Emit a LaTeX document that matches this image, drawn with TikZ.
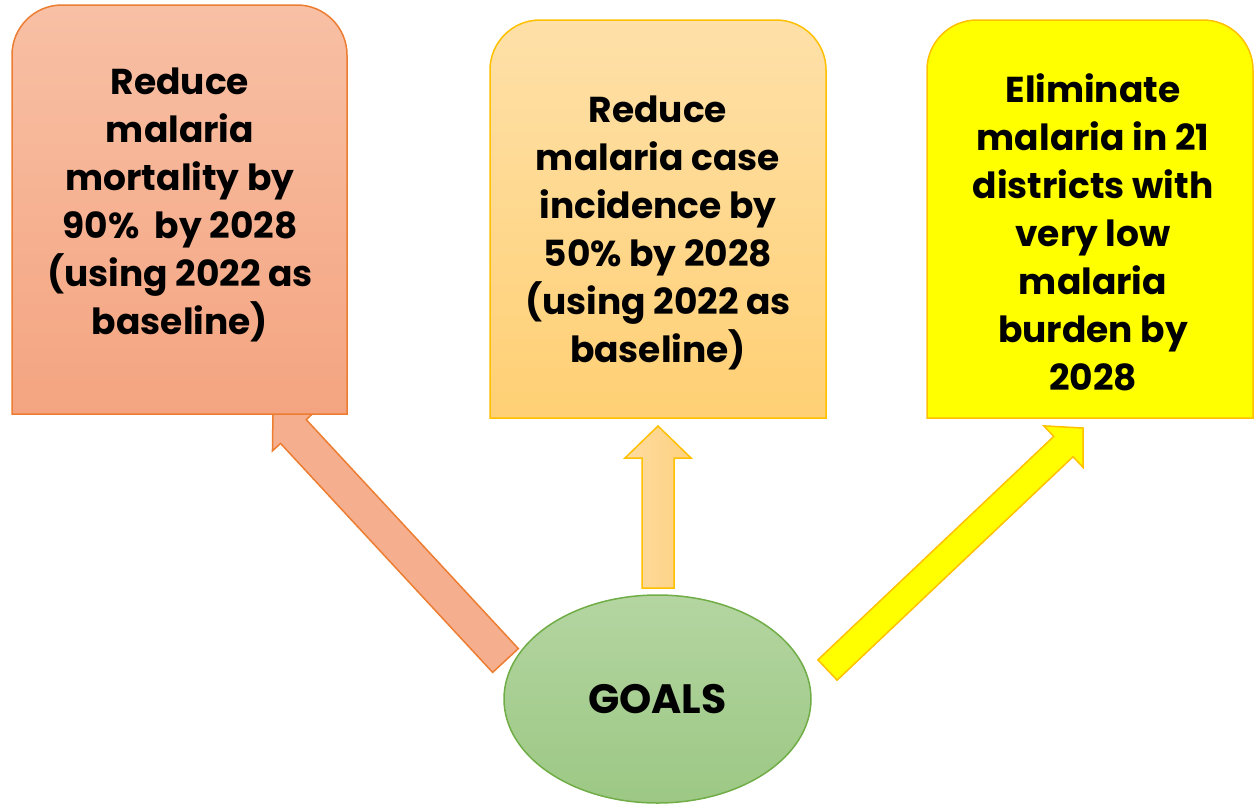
\documentclass[tikz,border=0pt]{standalone}
\usepackage{fontspec}
\setmainfont{Poppins}
\usetikzlibrary{calc,shapes.geometric}
\definecolor{orA}{HTML}{ED7D31}
\definecolor{b1top}{HTML}{F8C0A5}
\definecolor{b1bot}{HTML}{F4A480}
\definecolor{b2top}{HTML}{FEE0A8}
\definecolor{b2bot}{HTML}{FFD074}
\definecolor{goldB}{HTML}{FFC000}
\definecolor{yel}{HTML}{FFFF00}
\definecolor{gtop}{HTML}{B4D5A1}
\definecolor{gbot}{HTML}{9CC884}
\definecolor{gB}{HTML}{70AD47}
\definecolor{arrL}{HTML}{F5AF8F}
\definecolor{a2l}{HTML}{FEDBA0}
\definecolor{a2r}{HTML}{FDD17F}
\newcommand\toproundbox[5]{%
  \path[#5] (#1,#4) -- (#1,#2+50) arc[start angle=180,end angle=270,radius=50]
    -- (#3-50,#2) arc[start angle=270,end angle=360,radius=50] -- (#3,#4) -- cycle;}
\newcommand\blockarrow[6]{%
  \coordinate (#1-b) at ($(#2)!#5pt!(#1)$);
  \path[#6] ($(#1)!#3pt!90:(#2)$) -- ($(#1-b)!#3pt!-90:(#1)$) -- ($(#1-b)!#4pt!-90:(#1)$)
    -- (#2) -- ($(#1-b)!#4pt!90:(#1)$) -- ($(#1-b)!#3pt!90:(#1)$) -- ($(#1)!#3pt!-90:(#2)$) -- cycle;}
\tikzset{
  txt/.style={align=center, text=black, font=\fontsize{36}{48}\selectfont\bfseries, inner sep=0pt},
  box1/.style={draw=orA, line width=1.5pt, top color=b1top, bottom color=b1bot},
  box2/.style={draw=goldB, line width=1.5pt, top color=b2top, bottom color=b2bot},
  box3/.style={draw=goldB, line width=1.5pt, fill=yel},
  arr1/.style={draw=orA, line width=1.5pt, fill=arrL, line join=miter},
  arr2/.style={draw=goldB, line width=1.5pt, left color=a2l, right color=a2r, line join=miter},
  arr3/.style={draw=goldB, line width=1.5pt, fill=yel, line join=miter},
  goalstyle/.style={ellipse, draw=gB, line width=1.5pt, top color=gtop, bottom color=gbot,
    minimum width=307pt, minimum height=208pt, inner sep=0pt,
    font=\fontsize{41}{48}\selectfont\bfseries}
}
\begin{document}
\begin{tikzpicture}[x=1pt,y=-1pt]
\useasboundingbox (0,0) rectangle (1254,804);
% arrows
\coordinate (a1tail) at (505.5,660.5);
\coordinate (a1tip) at (273,409.5);
\coordinate (a2tail) at (658,588);
\coordinate (a2tip) at (658,426);
\coordinate (a3tail) at (827.5,670);
\coordinate (a3tip) at (1083,428);
\blockarrow{a1tail}{a1tip}{17.5}{28.5}{30}{arr1}
\blockarrow{a2tail}{a2tip}{16}{33}{32}{arr2}
\blockarrow{a3tail}{a3tip}{14}{28.5}{27}{arr3}
% boxes
\toproundbox{12}{5}{347}{414}{box1}
\toproundbox{490}{20}{826}{418}{box2}
\toproundbox{927}{20}{1253}{418}{box3}
\node[txt] (t1) at (180,205) {Reduce\\malaria\\mortality by\\90\%\ \ by 2028\\(using 2022 as\\baseline)};
\node[txt] (t2) at (658,233) {Reduce\\malaria case\\incidence by\\50\% by 2028\\(using 2022 as\\baseline)};
\node[txt] (t3) at (1093,232) {Eliminate\\malaria in 21\\districts with\\very low\\malaria\\burden by\\2028};
\node[goalstyle] (goals) at (657.5,699) {GOALS};
\end{tikzpicture}
\end{document}
